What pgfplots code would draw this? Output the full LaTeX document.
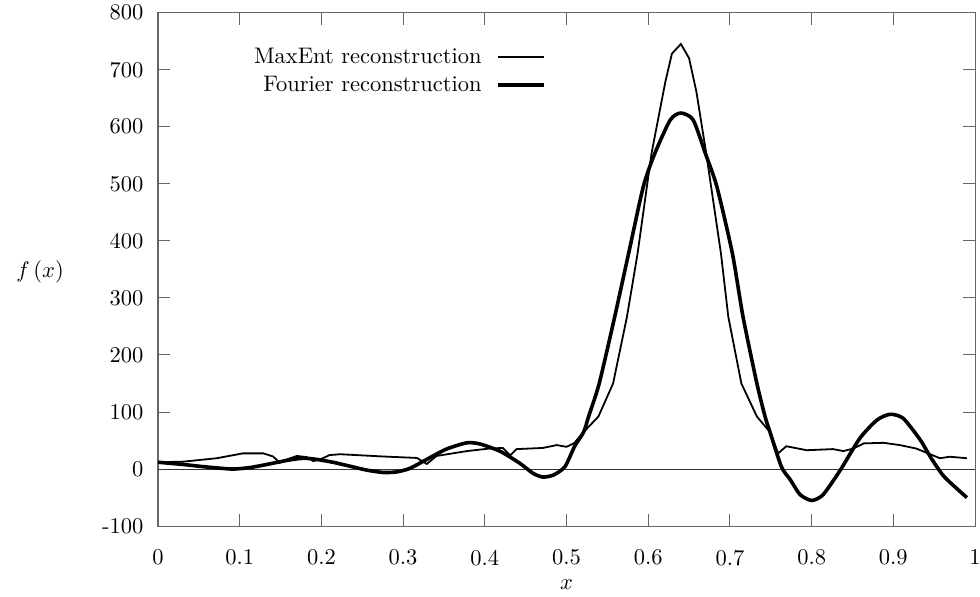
\documentclass[border=0pt]{standalone}
\usepackage{pgfplots}
\pgfplotsset{compat=1.18}
\begin{document}
\begin{tikzpicture}
\begin{axis}[
  scale only axis,
  width=363.1pt, height=228.2pt,
  xmin=0, xmax=1, ymin=-100, ymax=800,
  xtick={0,0.1,...,1.01},
  xticklabels={0,0.1,0.2,0.3,0.4,0.5,0.6,0.7,0.8,0.9,1},
  ytick={-100,0,100,...,800},
  yticklabels={-100,0,100,200,300,400,500,600,700,800},
  tick align=inside,
  major tick length=5.5pt,
  tick style={gray!80!black, line width=0.4pt},
  axis line style={gray!80!black, line width=0.5pt},
  xticklabel style={yshift=-7pt},
  yticklabel style={xshift=-3pt},
  every axis x label/.style={at={(axis description cs:0.5,0)}, anchor=center, yshift=-26.2pt},
  xlabel={$x$},
  every axis y label/.style={at={(axis description cs:0,0.5)}, anchor=center, xshift=-52.4pt, yshift=-1pt},
  ylabel={$f\,(x)$},
  legend plot pos=right,
  legend cell align=right,
  legend style={draw=none, fill=none, at={(axis cs:0.4836,754.5)}, anchor=north east,
    column sep=4.5pt, font=\normalsize},
  legend image code/.code={\draw[#1] (0cm,0cm) -- (0.72cm,0cm);},
]
\addplot[forget plot, black!80, line width=0.4pt] coordinates {(0,0) (1,0)};
\addplot[black, line width=0.8pt] coordinates {
(0,12) (0.031,13) (0.072,19) (0.104,27.5) (0.129,27.5) (0.141,22) (0.149,11)
(0.158,17) (0.170,23) (0.182,21) (0.190,14) (0.198,16.5) (0.210,24.5) (0.223,26)
(0.276,22) (0.317,19.5) (0.329,9) (0.341,23) (0.378,31.5) (0.406,36) (0.422,37)
(0.431,24) (0.439,35) (0.471,37) (0.488,42) (0.500,39) (0.509,45) (0.521,65)
(0.539,92) (0.557,150) (0.574,267) (0.587,378) (0.604,553) (0.621,679) (0.629,728)
(0.640,745) (0.650,720) (0.659,661) (0.671,553) (0.689,378) (0.698,267) (0.714,150)
(0.733,92) (0.749,65) (0.759,27.5) (0.769,40) (0.794,33) (0.826,35) (0.839,31.5)
(0.851,36) (0.864,45) (0.888,46) (0.908,42) (0.928,36) (0.945,26) (0.957,19)
(0.969,21.6) (0.990,19)
};
\addlegendentry{MaxEnt reconstruction}
\addplot[black, line width=1.6pt, smooth, tension=0.4] coordinates {
(0,12) (0.031,8) (0.050,5) (0.072,2) (0.092,0) (0.112,2.5) (0.133,8) (0.150,13)
(0.161,16) (0.174,18.5) (0.185,18.5) (0.194,17) (0.214,12) (0.235,5) (0.256,-2)
(0.276,-6) (0.292,-5) (0.308,1) (0.329,17) (0.353,35) (0.378,46) (0.394,44)
(0.419,31) (0.443,10) (0.459,-7.5) (0.471,-14) (0.484,-10.5) (0.498,4) (0.510,40)
(0.521,65) (0.527,92) (0.540,150) (0.559,267) (0.576,378) (0.594,495) (0.608,553)
(0.627,612) (0.640,624) (0.655,612) (0.670,553) (0.684,495) (0.703,378) (0.716,267)
(0.733,150) (0.743,92) (0.749,65) (0.763,4) (0.774,-19) (0.786,-45) (0.800,-55)
(0.814,-45) (0.835,-2) (0.859,54) (0.880,86) (0.896,96) (0.912,89) (0.933,51)
(0.945,22) (0.962,-13) (0.990,-50)
};
\addlegendentry{Fourier reconstruction}
\end{axis}
\pgfresetboundingbox
\path[use as bounding box] (-70.2pt,-31.1pt) rectangle (365.3pt,233.8pt);
\end{tikzpicture}
\end{document}
